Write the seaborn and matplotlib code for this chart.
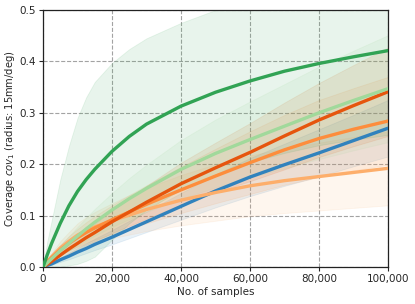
import numpy as np
import pandas as pd
import matplotlib
matplotlib.use("Agg")
import matplotlib.pyplot as plt
import matplotlib.ticker as mticker
import seaborn as sns

samples = [0, 1250, 2500, 5000, 7500, 10000, 12500, 15000, 20000, 25000, 30000,
           40000, 50000, 60000, 70000, 80000, 90000, 100000]

series_names = ["blue", "light_orange", "orange", "red", "light_green", "dark_green"]
series_colors = ["#3182bd", "#fdae6b", "#fd8d3c", "#e6550d", "#a1d99b", "#31a354"]

blue_mean = [0, .003, .006, .014, .021, .029, .036, .044, .058, .073, .088,
             .118, .148, .175, .199, .222, .246, .27]
blue_upper = [0, .004, .008, .018, .028, .037, .046, .055, .072, .09, .108,
              .144, .18, .212, .24, .268, .296, .325]
blue_lower = [0, .002, .004, .01, .015, .021, .027, .033, .044, .056, .068,
              .092, .116, .138, .158, .176, .196, .215]

red_mean = [0, .005, .011, .023, .035, .046, .057, .067, .088, .107, .126,
            .162, .193, .223, .255, .286, .314, .341]
red_upper = [0, .007, .014, .029, .044, .058, .071, .084, .11, .134, .158,
             .203, .242, .28, .32, .358, .393, .427]
red_lower = [0, .004, .008, .017, .026, .034, .042, .05, .066, .08, .094,
             .121, .145, .167, .19, .214, .235, .255]

orange_mean = [0, .01, .018, .033, .046, .057, .067, .076, .092, .107, .122,
               .15, .177, .203, .228, .25, .268, .284]
orange_upper = [0, .013, .023, .043, .06, .074, .087, .099, .12, .14, .159,
                .195, .23, .264, .296, .325, .348, .37]
orange_lower = [0, .007, .013, .023, .032, .04, .047, .053, .064, .075, .085,
                .105, .124, .142, .16, .175, .188, .199]

lorange_mean = [0, .011, .02, .037, .05, .062, .071, .078, .09, .101, .112,
                .13, .145, .158, .168, .176, .184, .192]
lorange_upper = [0, .015, .027, .05, .068, .085, .097, .107, .124, .14, .154,
                 .179, .2, .217, .231, .242, .253, .264]
lorange_lower = [0, .007, .013, .024, .032, .039, .044, .049, .056, .063, .07,
                 .081, .09, .099, .105, .11, .115, .12]

lgreen_mean = [0, .008, .016, .032, .046, .06, .074, .087, .111, .133, .153,
               .19, .221, .248, .274, .30, .324, .347]
lgreen_upper = [0, .011, .021, .042, .06, .078, .096, .113, .144, .173, .199,
                .247, .287, .322, .356, .39, .421, .451]
lgreen_lower = [0, .006, .011, .022, .032, .042, .052, .061, .078, .093, .107,
                .133, .155, .174, .192, .21, .227, .243]

dgreen_mean = [0, .024, .046, .085, .119, .147, .17, .19, .225, .254, .278,
               .313, .34, .362, .381, .396, .409, .421]
dgreen_upper = [0, .05, .09, .17, .235, .29, .33, .36, .397, .424, .445,
                .475, .5, .52, .54, .555, .57, .585]
dgreen_lower = [0, 0, 0, 0, .003, .006, .012, .02, .053, .085, .111,
                .151, .18, .204, .222, .237, .248, .257]

means = [blue_mean, lorange_mean, orange_mean, red_mean, lgreen_mean, dgreen_mean]
uppers = [blue_upper, lorange_upper, orange_upper, red_upper, lgreen_upper, dgreen_upper]
lowers = [blue_lower, lorange_lower, orange_lower, red_lower, lgreen_lower, dgreen_lower]

sns.set_style("ticks")
plt.rcParams["font.family"] = ["DejaVu Sans"]

fig = plt.figure(figsize=(4.15, 3.04), dpi=100)
ax = fig.add_axes([0.1036, 0.1217, 0.8313, 0.8453])

for name, col, lo, up in zip(series_names, series_colors, lowers, uppers):
    ax.fill_between(samples, lo, up, color=col, alpha=0.11, linewidth=0.6,
                    edgecolor=col, zorder=1)

rows = []
for name, m in zip(series_names, means):
    for s, v in zip(samples, m):
        rows.append({"samples": s, "coverage": v, "series": name})
df = pd.DataFrame(rows)

sns.lineplot(data=df, x="samples", y="coverage", hue="series", hue_order=series_names,
             palette=dict(zip(series_names, series_colors)), linewidth=2.4,
             legend=False, ax=ax, zorder=3)

ax.set_xlim(0, 100000)
ax.set_ylim(0, 0.5)
ax.set_xticks([0, 20000, 40000, 60000, 80000, 100000])
ax.set_yticks([0.0, 0.1, 0.2, 0.3, 0.4, 0.5])
ax.xaxis.set_major_formatter(mticker.FuncFormatter(lambda v, p: f"{int(v):,}"))
ax.yaxis.set_major_formatter(mticker.FormatStrFormatter("%.1f"))
ax.grid(True, linestyle="--", color="#999999", linewidth=0.8, alpha=0.9, zorder=0)
ax.set_axisbelow(True)
for sp in ax.spines.values():
    sp.set_visible(True)
    sp.set_color("#222222")
    sp.set_linewidth(0.9)
ax.tick_params(labelsize=7.5, length=3, width=0.8, pad=2)
ax.set_xlabel("No. of samples", fontsize=7.5, labelpad=2)
ax.set_ylabel("Coverage $cov_1$ (radius: 15mm/deg)", fontsize=7.2, labelpad=1.5)

fig.savefig("out.png", dpi=100)
